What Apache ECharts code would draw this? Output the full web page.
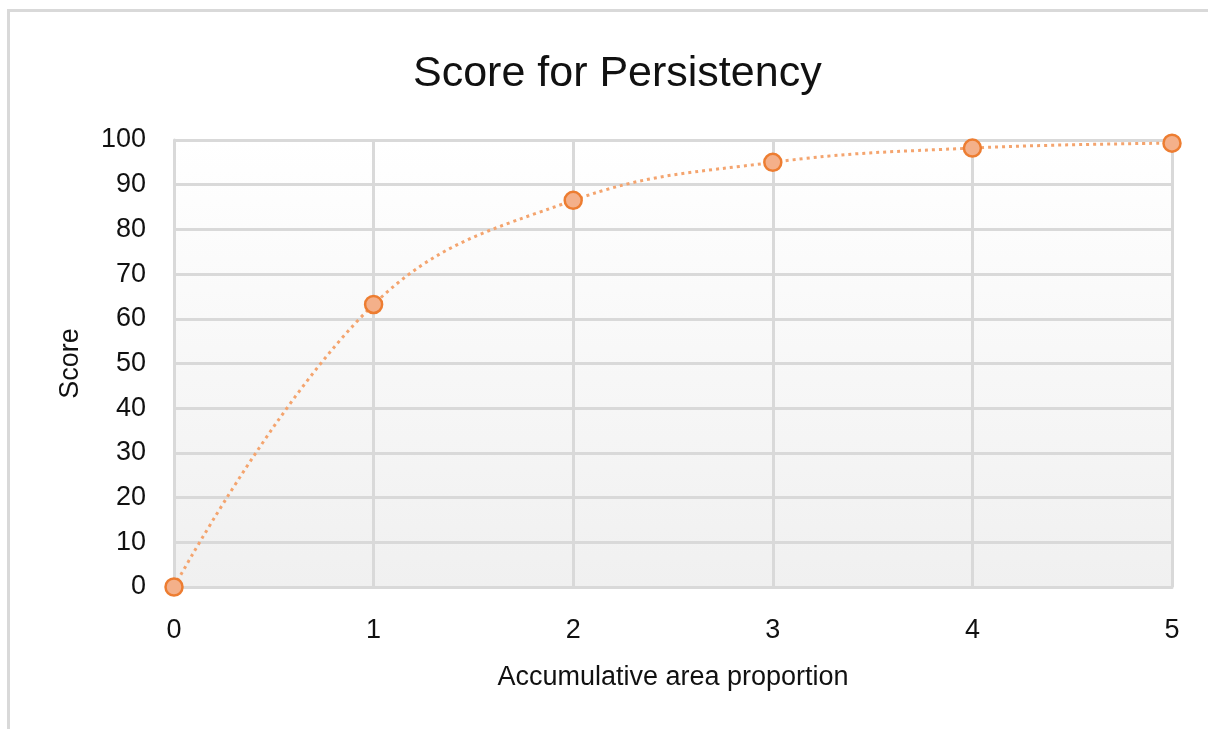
<!DOCTYPE html>
<html>
<head>
<meta charset="utf-8">
<script src="https://cdn.jsdelivr.net/npm/echarts@6/dist/echarts.min.js"></script>
<style>
html,body{margin:0;padding:0;background:#fff;}
#frame{position:absolute;left:7px;top:9px;width:1201px;height:720px;border-top:3px solid #d9d9d9;border-left:3px solid #d9d9d9;box-sizing:border-box;}
#c{position:absolute;left:0;top:0;width:1208px;height:729px;}
</style>
</head>
<body>
<div id="frame"></div>
<div id="c"></div>
<script>
const xValues = [0, 1, 2, 3, 4, 5];
const scores = [0, 63.2, 86.5, 95.0, 98.2, 99.3];
const titleText = 'Score for Persistency';
const xName = 'Accumulative area proportion';
const yName = 'Score';

const chart = echarts.init(document.getElementById('c'));
const font = 'Liberation Sans, Arial, sans-serif';
chart.setOption({
  animation: false,
  title: {
    text: titleText, left: 408, top: 48,
    textStyle: {fontFamily: font, fontSize: 43, fontWeight: 'normal', color: '#111111'}
  },
  grid: {
    left: 174, right: 36, top: 140, bottom: 142, show: true, borderWidth: 0,
    backgroundColor: new echarts.graphic.LinearGradient(0, 0, 0, 1, [
      {offset: 0, color: '#ffffff'}, {offset: 1, color: '#f0f0f0'}
    ])
  },
  xAxis: {
    type: 'value', min: 0, max: 5, interval: 1,
    name: xName, nameLocation: 'middle', nameGap: 77,
    nameTextStyle: {fontFamily: font, fontSize: 27, color: '#111111'},
    axisLine: {show: true, lineStyle: {color: '#d9d9d9', width: 3}},
    axisTick: {show: false},
    axisLabel: {fontFamily: font, fontSize: 27, color: '#111111', margin: 30},
    splitLine: {show: true, lineStyle: {color: '#d9d9d9', width: 3}}
  },
  yAxis: {
    type: 'value', min: 0, max: 100, interval: 10,
    name: yName, nameLocation: 'middle', nameGap: 90,
    nameTextStyle: {fontFamily: font, fontSize: 27, color: '#111111'},
    axisLine: {show: true, lineStyle: {color: '#d9d9d9', width: 3}},
    axisTick: {show: false},
    axisLabel: {fontFamily: font, fontSize: 27, color: '#111111', margin: 28},
    splitLine: {show: true, lineStyle: {color: '#d9d9d9', width: 3}}
  },
  series: [{
    type: 'line',
    data: xValues.map((x, i) => [x, scores[i]]),
    smooth: 0.4,
    symbol: 'circle', symbolSize: 17,
    itemStyle: {color: '#f4b08a', borderColor: '#ed7d31', borderWidth: 2.5},
    lineStyle: {color: '#f4a46e', width: 3, type: [3, 4]},
    clip: false
  }]
});
</script>
</body>
</html>
